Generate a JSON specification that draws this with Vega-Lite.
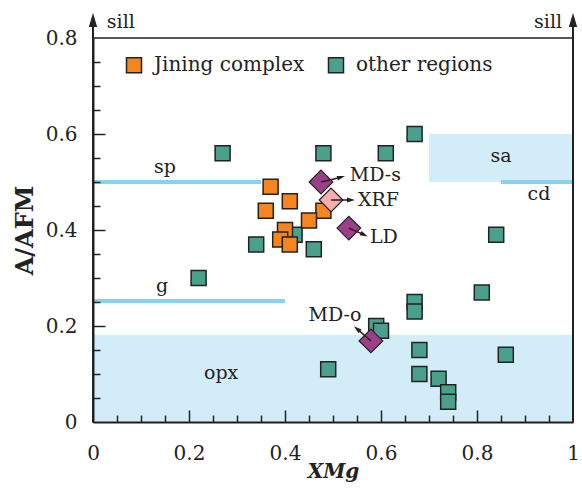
{
  "$schema": "https://vega.github.io/schema/vega-lite/v6.json",
  "width": 480,
  "height": 384,
  "autosize": {"type": "none"},
  "padding": {"left": 93, "top": 38, "right": 9, "bottom": 69},
  "background": "white",
  "config": {
    "font": "DejaVu Serif",
    "view": {"stroke": "#222", "strokeWidth": 1.5},
    "axis": {
      "domainColor": "#222", "domainWidth": 2,
      "labelFont": "DejaVu Serif", "labelFontSize": 20, "labelColor": "#222",
      "titleFont": "DejaVu Serif", "titleColor": "#222", "grid": false,
      "labelFlush": false, "labelOverlap": false
    }
  },
  "datasets": {
    "areas": [
      {"name": "opx", "x": 0, "x2": 1, "y": 0, "y2": 0.182},
      {"name": "sa", "x": 0.7, "x2": 1, "y": 0.5, "y2": 0.6}
    ],
    "lines": [
      {"name": "sp", "x": 0, "x2": 0.35, "y": 0.5},
      {"name": "g", "x": 0, "x2": 0.4, "y": 0.252},
      {"name": "cd", "x": 0.85, "x2": 1, "y": 0.5}
    ],
    "labels": [
      {"label": "sp", "x": 0.15, "y": 0.531},
      {"label": "g", "x": 0.144, "y": 0.283},
      {"label": "sa", "x": 0.85, "y": 0.554},
      {"label": "cd", "x": 0.929, "y": 0.475},
      {"label": "opx", "x": 0.267, "y": 0.102},
      {"label": "MD-o", "x": 0.504, "y": 0.223},
      {"label": "sill", "x": 0.058, "y": 0.833},
      {"label": "sill", "x": 0.948, "y": 0.833}
    ],
    "frame": [
      {"x": 0, "y": 0, "y2": 0.8375},
      {"x": 1, "y": 0, "y2": 0.8375}
    ],
    "pts": [
      {"group": "other regions", "x": 0.22, "y": 0.30},
      {"group": "other regions", "x": 0.27, "y": 0.56},
      {"group": "other regions", "x": 0.48, "y": 0.56},
      {"group": "other regions", "x": 0.61, "y": 0.56},
      {"group": "other regions", "x": 0.67, "y": 0.60},
      {"group": "other regions", "x": 0.34, "y": 0.37},
      {"group": "other regions", "x": 0.42, "y": 0.39},
      {"group": "other regions", "x": 0.46, "y": 0.36},
      {"group": "other regions", "x": 0.49, "y": 0.11},
      {"group": "other regions", "x": 0.59, "y": 0.20},
      {"group": "other regions", "x": 0.60, "y": 0.19},
      {"group": "other regions", "x": 0.67, "y": 0.25},
      {"group": "other regions", "x": 0.67, "y": 0.23},
      {"group": "other regions", "x": 0.84, "y": 0.39},
      {"group": "other regions", "x": 0.81, "y": 0.27},
      {"group": "other regions", "x": 0.68, "y": 0.15},
      {"group": "other regions", "x": 0.68, "y": 0.10},
      {"group": "other regions", "x": 0.72, "y": 0.09},
      {"group": "other regions", "x": 0.74, "y": 0.062},
      {"group": "other regions", "x": 0.74, "y": 0.042},
      {"group": "other regions", "x": 0.86, "y": 0.14},
      {"group": "Jining complex", "x": 0.37, "y": 0.49},
      {"group": "Jining complex", "x": 0.41, "y": 0.46},
      {"group": "Jining complex", "x": 0.36, "y": 0.44},
      {"group": "Jining complex", "x": 0.48, "y": 0.44},
      {"group": "Jining complex", "x": 0.45, "y": 0.42},
      {"group": "Jining complex", "x": 0.40, "y": 0.40},
      {"group": "Jining complex", "x": 0.39, "y": 0.38},
      {"group": "Jining complex", "x": 0.41, "y": 0.37}
    ],
    "diamonds": [
      {"label": "MD-s", "x": 0.475, "y": 0.50},
      {"label": "XRF", "x": 0.496, "y": 0.4625},
      {"label": "LD", "x": 0.533, "y": 0.404},
      {"label": "MD-o", "x": 0.579, "y": 0.169}
    ],
    "arrows": [
      {"label": "MD-s", "sx": 0.475, "sy": 0.50, "x": 0.517, "y": 0.510},
      {"label": "XRF", "sx": 0.496, "sy": 0.4625, "x": 0.5375, "y": 0.4625},
      {"label": "LD", "sx": 0.533, "sy": 0.404, "x": 0.565, "y": 0.390},
      {"label": "MD-o", "sx": 0.579, "sy": 0.169, "x": 0.55, "y": 0.194}
    ],
    "tags": [
      {"label": "MD-s", "x": 0.535, "y": 0.515},
      {"label": "XRF", "x": 0.552, "y": 0.4625},
      {"label": "LD", "x": 0.577, "y": 0.385}
    ]
  },
  "resolve": {"axis": {"x": "independent", "y": "independent"}},
  "layer": [
    {
      "data": {"name": "areas"},
      "mark": {"type": "rect", "fill": "#d3edf8"},
      "encoding": {
        "x": {
          "field": "x", "type": "quantitative",
          "scale": {"domain": [0, 1], "nice": false, "zero": false},
          "axis": {
            "orient": "top", "offset": -384, "title": null, "labels": false, "domain": false,
            "ticks": true, "tickSize": 7, "tickColor": "#222", "tickWidth": 1.5, "tickOpacity": 1, "zindex": 2,
            "values": [0.05, 0.1, 0.15, 0.25, 0.3, 0.35, 0.45, 0.5, 0.55, 0.65, 0.7, 0.75, 0.85, 0.9, 0.95]
          }
        },
        "y": {
          "field": "y", "type": "quantitative",
          "scale": {"domain": [0, 0.8], "nice": false, "zero": false},
          "axis": {
            "orient": "right", "offset": -480, "title": null, "labels": false, "domain": false,
            "ticks": true, "tickSize": 7, "tickColor": "#222", "tickWidth": 1.5, "tickOpacity": 1, "zindex": 2,
            "values": [0.05, 0.1, 0.15, 0.25, 0.3, 0.35, 0.45, 0.5, 0.55, 0.65, 0.7, 0.75]
          }
        },
        "x2": {"field": "x2"},
        "y2": {"field": "y2"}
      }
    },
    {
      "data": {"name": "lines"},
      "mark": {"type": "rule", "color": "#88d2f1", "strokeWidth": 4},
      "encoding": {
        "x": {
          "field": "x", "type": "quantitative",
          "scale": {"domain": [0, 1], "nice": false, "zero": false},
          "axis": {
            "orient": "top", "offset": -384, "title": null, "labels": false, "domain": false,
            "ticks": true, "tickSize": 12, "tickColor": "#222", "tickWidth": 1.5, "tickOpacity": 1, "zindex": 2,
            "values": [0.2, 0.4, 0.6, 0.8]
          }
        },
        "y": {
          "field": "y", "type": "quantitative",
          "scale": {"domain": [0, 0.8], "nice": false, "zero": false},
          "axis": {
            "orient": "right", "offset": -480, "title": null, "labels": false, "domain": false,
            "ticks": true, "tickSize": 12, "tickColor": "#222", "tickWidth": 1.5, "tickOpacity": 1, "zindex": 2,
            "values": [0.2, 0.4, 0.6]
          }
        },
        "x2": {"field": "x2"}
      }
    },
    {
      "encoding": {
        "x": {
          "field": "x", "type": "quantitative",
          "scale": {"domain": [0, 1], "nice": false, "zero": false},
          "axis": {
            "orient": "bottom", "ticks": false, "zindex": 1,
            "title": "XMg", "titleFontSize": 20, "titleFontWeight": "bold", "titleFontStyle": "italic", "titlePadding": -2,
            "values": [0, 0.2, 0.4, 0.6, 0.8, 1],
            "format": ".1~f",
            "labelPadding": 21
          }
        },
        "y": {
          "field": "y", "type": "quantitative",
          "scale": {"domain": [0, 0.8], "nice": false, "zero": false},
          "axis": {
            "orient": "left", "ticks": false, "zindex": 1,
            "title": "A/AFM", "titleFontSize": 24, "titleFontWeight": "bold", "titlePadding": 8,
            "values": [0, 0.2, 0.4, 0.6, 0.8],
            "format": ".1~f",
            "labelPadding": 16
          }
        }
      },
      "layer": [
        {
          "data": {"name": "labels"},
          "mark": {"type": "text", "font": "DejaVu Serif", "fontSize": 19, "color": "#222", "align": "center", "baseline": "middle"},
          "encoding": {"text": {"field": "label"}}
        },
        {
          "data": {"name": "frame"},
          "mark": {"type": "rule", "color": "#222", "strokeWidth": 2},
          "encoding": {"y2": {"field": "y2"}}
        },
        {
          "data": {"name": "frame"},
          "mark": {"type": "point", "shape": "M0,-1L0.6,1L-0.6,1Z", "filled": true, "color": "#222", "size": 196, "opacity": 1},
          "encoding": {"y": {"field": "y2", "type": "quantitative"}}
        },
        {
          "data": {"name": "pts"},
          "mark": {"type": "point", "shape": "square", "filled": true, "size": 225, "stroke": "#222", "strokeWidth": 1.5, "opacity": 1},
          "encoding": {
            "color": {
              "field": "group", "type": "nominal",
              "scale": {"domain": ["Jining complex", "other regions"], "range": ["#f5861f", "#4aa08c"]},
              "legend": {
                "orient": "none", "legendX": 31, "legendY": 17, "direction": "horizontal", "title": null,
                "symbolType": "square", "symbolSize": 225, "symbolStrokeColor": "#222", "symbolStrokeWidth": 1.5,
                "labelFont": "DejaVu Serif", "labelFontSize": 20, "labelColor": "#222", "labelOffset": 10,
                "columnPadding": 20, "padding": 0, "symbolOpacity": 1
              }
            }
          }
        },
        {
          "data": {"name": "diamonds"},
          "mark": {"type": "point", "shape": "diamond", "filled": true, "size": 560, "stroke": "#222", "strokeWidth": 1.2, "opacity": 1},
          "encoding": {
            "fill": {"condition": {"test": "datum.label === 'XRF'", "value": "#f5adae"}, "value": "#9c3f89"}
          }
        },
        {
          "data": {"name": "arrows"},
          "mark": {"type": "rule", "color": "#222", "strokeWidth": 1.5},
          "encoding": {"x2": {"field": "sx"}, "y2": {"field": "sy"}}
        },
        {
          "data": {"name": "arrows"},
          "mark": {"type": "point", "shape": "M0,-1L0.6,1L-0.6,1Z", "filled": true, "color": "#222", "size": 64, "opacity": 1},
          "encoding": {
            "angle": {"condition": [
              {"test": "datum.label === 'MD-s'", "value": 74},
              {"test": "datum.label === 'XRF'", "value": 90},
              {"test": "datum.label === 'LD'", "value": 115}
            ], "value": 310}
          }
        },
        {
          "data": {"name": "tags"},
          "mark": {"type": "text", "font": "DejaVu Serif", "fontSize": 19, "color": "#222", "align": "left", "baseline": "middle"},
          "encoding": {"text": {"field": "label"}}
        }
      ]
    }
  ]
}
